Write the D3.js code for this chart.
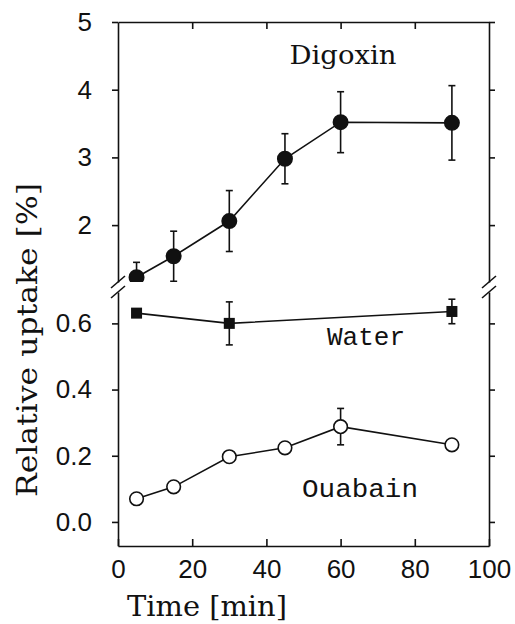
<!DOCTYPE html>
<html>
<head>
<meta charset="utf-8">
<script src="https://cdn.jsdelivr.net/npm/d3@7"></script>
<style>
  body { margin: 0; background: #fff; }
  .tick text { font-family: "Liberation Sans", Arial, sans-serif; font-size: 26px; fill: #111; }
  .domain, .tick line { stroke: #111; stroke-width: 1.6; }
</style>
</head>
<body>
<script>
// data
var times = [5, 15, 30, 45, 60, 90];
var digoxin = [1.23, 1.54, 2.06, 2.98, 3.52, 3.51];
var digoxinErr = [0.22, 0.37, 0.45, 0.37, 0.45, 0.55];
var waterTimes = [5, 30, 90];
var water = [0.631, 0.60, 0.636];
var waterErr = [0, 0.065, 0.037];
var ouabain = [0.07, 0.106, 0.197, 0.224, 0.288, 0.233];
var ouabainErr = [0, 0, 0, 0, 0.055, 0];
var xTicks = [0, 20, 40, 60, 80, 100];
var upperTicks = [2, 3, 4, 5];
var lowerTicks = [0.0, 0.2, 0.4, 0.6];

var w = 515, h = 624;
var pLeft = 118, pRight = 489, pTop = 22, pBottom = 546;
var breakTop = 282, breakBot = 292;

var svg = d3.select('body').append('svg')
  .attr('width', w)
  .attr('height', h);

var x = d3.scaleLinear().domain([0, 100]).range([pLeft, pRight]);
var yUp = d3.scaleLinear().domain([5, 5 - (breakTop - pTop) / 67.7]).range([pTop, breakTop]);
var yLo = d3.scaleLinear().domain([0.6 + (323.3 - breakBot) / 330, 0 - (pBottom - 522) / 330]).range([breakBot, pBottom]);

var fmt1 = d3.format('.1f');

// axes
svg.append('g').attr('transform', `translate(0,${pBottom})`)
  .call(d3.axisBottom(x).tickValues(xTicks).tickSizeInner(-7).tickSizeOuter(0).tickPadding(14));
svg.append('g').attr('transform', `translate(0,${pTop})`)
  .call(d3.axisTop(x).tickValues(xTicks.slice(1, 5)).tickSizeInner(-7).tickSizeOuter(0).tickFormat(''));

svg.append('g').attr('transform', `translate(${pLeft},0)`)
  .call(d3.axisLeft(yUp).tickValues(upperTicks).tickSizeInner(6).tickSizeOuter(0).tickPadding(20).tickFormat(d3.format('d')));
svg.append('g').attr('transform', `translate(${pLeft},0)`)
  .call(d3.axisLeft(yLo).tickValues(lowerTicks).tickSizeInner(6).tickSizeOuter(0).tickPadding(20).tickFormat(fmt1));
svg.append('g').attr('transform', `translate(${pRight},0)`)
  .call(d3.axisRight(yUp).tickValues(upperTicks).tickSizeInner(6).tickSizeOuter(0).tickFormat(''));
svg.append('g').attr('transform', `translate(${pRight},0)`)
  .call(d3.axisRight(yLo).tickValues(lowerTicks).tickSizeInner(6).tickSizeOuter(0).tickFormat(''));

// break marks
[pLeft, pRight].forEach(function(bx) {
  [breakTop, breakBot].forEach(function(by) {
    svg.append('line')
      .attr('x1', bx - 7).attr('y1', by + 6)
      .attr('x2', bx + 7).attr('y2', by - 6)
      .attr('stroke', '#111').attr('stroke-width', 1.6);
  });
});

// clips for each panel
var defs = svg.append('defs');
defs.append('clipPath').attr('id', 'cUp').append('rect')
  .attr('x', pLeft).attr('y', pTop).attr('width', pRight - pLeft).attr('height', breakTop - pTop);
defs.append('clipPath').attr('id', 'cLo').append('rect')
  .attr('x', pLeft).attr('y', breakBot).attr('width', pRight - pLeft).attr('height', pBottom - breakBot);

function series(ts, vals, errs, y, clip, marker) {
  var g = svg.append('g').attr('clip-path', `url(#${clip})`);
  var pts = ts.map(function(t, i) { return { t: t, v: vals[i], e: errs[i] }; });
  g.append('path')
    .datum(pts)
    .attr('fill', 'none').attr('stroke', '#111').attr('stroke-width', 1.6)
    .attr('d', d3.line().x(function(d) { return x(d.t); }).y(function(d) { return y(d.v); }));
  var eb = g.selectAll(null).data(pts.filter(function(d) { return d.e > 0; })).enter().append('g')
    .attr('stroke', '#111').attr('stroke-width', 1.6);
  eb.append('line')
    .attr('x1', function(d) { return x(d.t); }).attr('x2', function(d) { return x(d.t); })
    .attr('y1', function(d) { return y(d.v - d.e); }).attr('y2', function(d) { return y(d.v + d.e); });
  [1, -1].forEach(function(s) {
    eb.append('line')
      .attr('x1', function(d) { return x(d.t) - 3.5; }).attr('x2', function(d) { return x(d.t) + 3.5; })
      .attr('y1', function(d) { return y(d.v + s * d.e); }).attr('y2', function(d) { return y(d.v + s * d.e); });
  });
  var m = g.selectAll(null).data(pts).enter();
  if (marker === 'square') {
    m.append('rect')
      .attr('x', function(d) { return x(d.t) - 5.5; }).attr('y', function(d) { return y(d.v) - 5.5; })
      .attr('width', 11).attr('height', 11).attr('fill', '#111');
  } else {
    m.append('circle')
      .attr('cx', function(d) { return x(d.t); }).attr('cy', function(d) { return y(d.v); })
      .attr('r', marker === 'open' ? 6.8 : 7.2)
      .attr('fill', marker === 'open' ? '#fff' : '#111')
      .attr('stroke', '#111').attr('stroke-width', 1.6);
  }
}

series(times, digoxin, digoxinErr, yUp, 'cUp', 'filled');
series(waterTimes, water, waterErr, yLo, 'cLo', 'square');
series(times, ouabain, ouabainErr, yLo, 'cLo', 'open');

// labels
svg.append('text').attr('x', 343).attr('y', 64).attr('text-anchor', 'middle')
  .attr('font-family', 'DejaVu Serif, serif').attr('font-size', 26)
  .attr('textLength', 107).attr('lengthAdjust', 'spacingAndGlyphs').attr('fill', '#111')
  .text('Digoxin');
svg.append('text').attr('x', 366).attr('y', 345).attr('text-anchor', 'middle')
  .attr('font-family', 'Liberation Mono, monospace').attr('font-size', 26)
  .attr('textLength', 78).attr('lengthAdjust', 'spacingAndGlyphs').attr('fill', '#111')
  .text('Water');
svg.append('text').attr('x', 360).attr('y', 497).attr('text-anchor', 'middle')
  .attr('font-family', 'Liberation Mono, monospace').attr('font-size', 26)
  .attr('textLength', 116).attr('lengthAdjust', 'spacingAndGlyphs').attr('fill', '#111')
  .text('Ouabain');

svg.append('text').attr('x', 207).attr('y', 616).attr('text-anchor', 'middle')
  .attr('font-family', 'DejaVu Serif, serif').attr('font-size', 28)
  .attr('textLength', 160).attr('lengthAdjust', 'spacingAndGlyphs').attr('fill', '#111')
  .text('Time [min]');
svg.append('text')
  .attr('transform', 'translate(37,340) rotate(-90)')
  .attr('text-anchor', 'middle')
  .attr('font-family', 'DejaVu Serif, serif').attr('font-size', 28)
  .attr('textLength', 314).attr('lengthAdjust', 'spacingAndGlyphs').attr('fill', '#111')
  .text('Relative uptake [%]');
</script>
</body>
</html>
